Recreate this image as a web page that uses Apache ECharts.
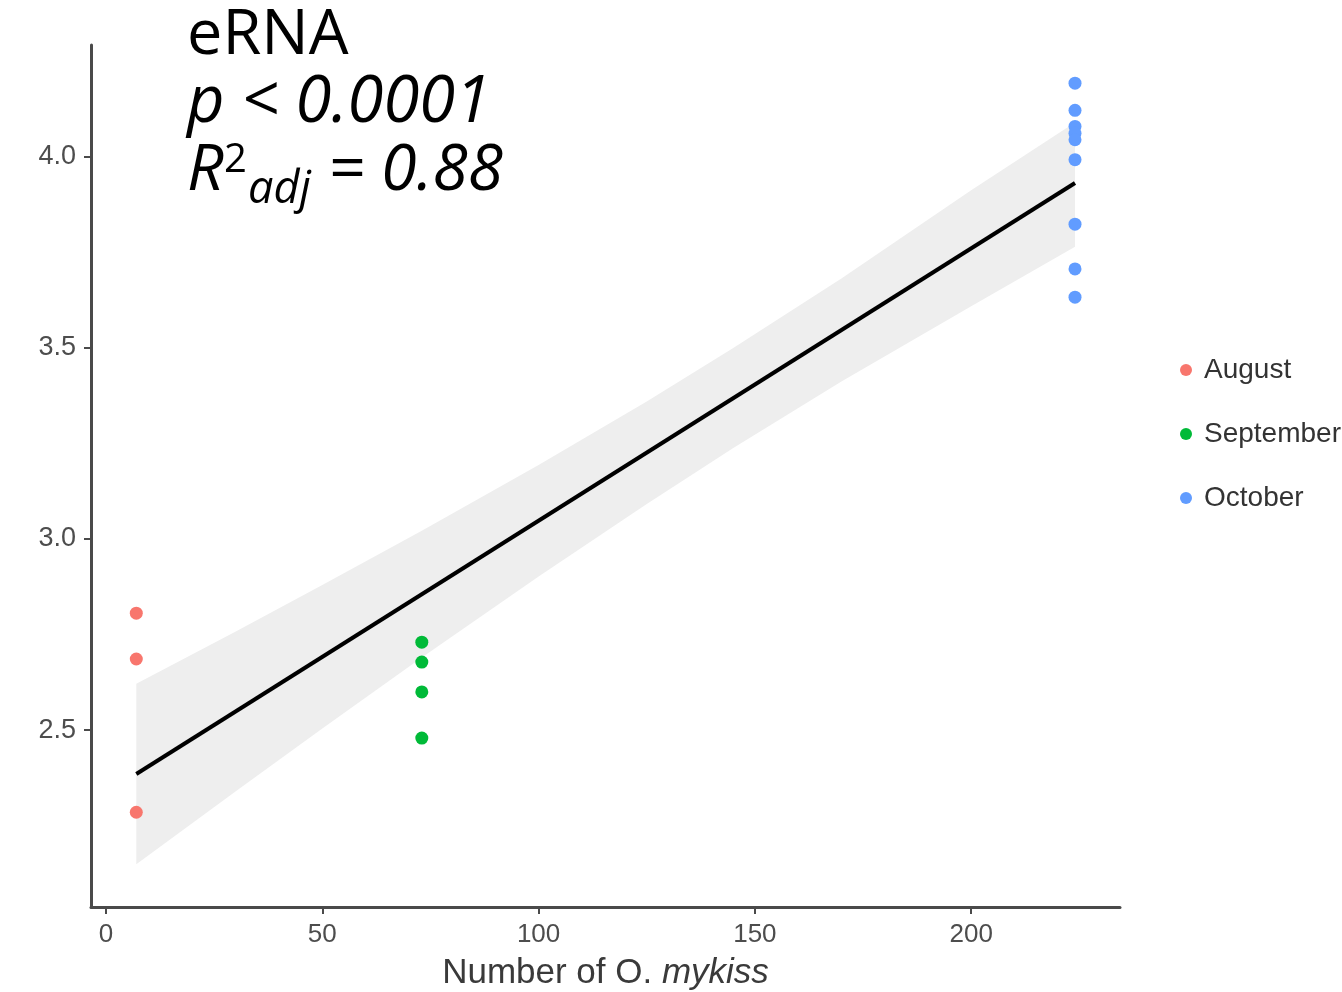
<!DOCTYPE html>
<html>
<head>
<meta charset="utf-8">
<script src="https://cdn.jsdelivr.net/npm/echarts@6/dist/echarts.min.js"></script>
<style>
html,body{margin:0;padding:0;background:#fff;}
#chart{width:1342px;height:992px;}
</style>
</head>
<body>
<div id="chart"></div>
<script>
// ---- data ----
const months = ['August', 'September', 'October'];
const monthColors = ['#F8766D', '#00BA38', '#619CFF'];

const augustX = [7, 7, 7];
const augustY = [2.806, 2.686, 2.285];

const septemberX = [73, 73, 73, 73];
const septemberY = [2.730, 2.678, 2.600, 2.479];

const octoberX = [224, 224, 224, 224, 224, 224, 224, 224, 224];
const octoberY = [4.193, 4.122, 4.080, 4.062, 4.045, 3.993, 3.824, 3.707, 3.633];

// fitted regression line (endpoints)
const fitX = [7, 224];
const fitY = [2.385, 3.932];

// confidence band
const bandX =     [7,     30,    50,    73,    100,   125,   145,   170,   200,   224];
const bandLower = [2.149, 2.340, 2.504, 2.690, 2.902, 3.092, 3.238, 3.412, 3.609, 3.765];
const bandUpper = [2.621, 2.758, 2.880, 3.022, 3.194, 3.360, 3.500, 3.682, 3.913, 4.090];

const xTicks = [0, 50, 100, 150, 200];
const yTicks = [2.5, 3.0, 3.5, 4.0];

const xRange = [-3.47, 234.4];
const yRange = [2.037, 4.293];

// ---- build ----
const pairs = (xs, ys) => xs.map((x, i) => [x, ys[i]]);
const groupX = [augustX, septemberX, octoberX];
const groupY = [augustY, septemberY, octoberY];

const chart = echarts.init(document.getElementById('chart'), null, {renderer: 'canvas'});

const axisLineStyle = {show: true, onZero: false, lineStyle: {color: '#4a4a4a', width: 3}};
const tickStyle = {show: true, length: 7, lineStyle: {color: '#4a4a4a', width: 2}};

function renderBand(params, api) {
  if (params.dataIndex !== 0) return null;
  const pts = [];
  for (let i = 0; i < bandX.length; i++) pts.push(api.coord([bandX[i], bandUpper[i]]));
  for (let i = bandX.length - 1; i >= 0; i--) pts.push(api.coord([bandX[i], bandLower[i]]));
  return {
    type: 'polygon',
    shape: {points: pts},
    style: {fill: '#eeeeee', stroke: null}
  };
}

const option = {
  animation: false,
  backgroundColor: '#ffffff',
  grid: {left: 91, right: 222, top: 45, bottom: 85, containLabel: false, outerBoundsMode: 'none'},
  xAxis: {
    type: 'value',
    min: xRange[0], max: xRange[1],
    axisLine: axisLineStyle,
    axisTick: Object.assign({}, tickStyle, {customValues: xTicks}),
    splitLine: {show: false},
    axisLabel: {
      customValues: xTicks, margin: 15,
      fontFamily: 'Liberation Sans', fontSize: 26, color: '#4d4d4d',
      formatter: v => String(v)
    },
    name: '{n|Number of O. }{i|mykiss}',
    nameLocation: 'middle', nameGap: 49,
    nameTextStyle: {
      rich: {
        n: {fontFamily: 'Liberation Sans', fontSize: 35, color: '#3a3a3a'},
        i: {fontFamily: 'Liberation Sans', fontSize: 35, fontStyle: 'italic', color: '#3a3a3a'}
      }
    }
  },
  yAxis: {
    type: 'value',
    min: yRange[0], max: yRange[1],
    axisLine: axisLineStyle,
    axisTick: Object.assign({}, tickStyle, {customValues: yTicks}),
    splitLine: {show: false},
    axisLabel: {
      customValues: yTicks, margin: 15,
      fontFamily: 'Liberation Sans', fontSize: 27, color: '#4d4d4d',
      formatter: v => v.toFixed(1)
    }
  },
  legend: {
    orient: 'vertical',
    left: 1175, top: 348,
    data: months,
    icon: 'circle',
    itemWidth: 20, itemHeight: 12,
    itemGap: 30,
    selectedMode: false,
    textStyle: {fontFamily: 'Liberation Sans', fontSize: 28, color: '#333333', lineHeight: 34, padding: [0, 0, 0, 3]}
  },
  graphic: [
    {type: 'text', z: 100, left: 187, top: 5, style: {text: 'eRNA', font: '63px "Open Sans"', fill: '#000'}},
    {type: 'text', z: 100, left: 187, top: 71, style: {text: 'p < 0.0001', font: 'italic 65px "Open Sans"', fill: '#000'}},
    {type: 'text', z: 100, left: 187, top: 140, style: {text: 'R', font: 'italic 64px "Open Sans"', fill: '#000'}},
    {type: 'text', z: 100, left: 224, top: 141, style: {text: '2', font: '40px "Open Sans"', fill: '#000'}},
    {type: 'text', z: 100, left: 248, top: 168, style: {text: 'adj', font: 'italic 45px "Open Sans"', fill: '#000'}},
    {type: 'text', z: 100, left: 328, top: 140, style: {text: '= 0.88', font: 'italic 64px "Open Sans"', fill: '#000'}}
  ],
  series: [
    {
      name: 'band', type: 'custom', silent: true,
      data: pairs(bandX, bandLower),
      renderItem: renderBand,
      clip: true, z: 1
    },
    {
      name: 'fit', type: 'line', silent: true,
      data: pairs(fitX, fitY), symbol: 'none',
      lineStyle: {color: '#000000', width: 4}, z: 3
    }
  ].concat(months.map((m, k) => ({
    name: m, type: 'scatter',
    data: pairs(groupX[k], groupY[k]),
    symbol: 'circle', symbolSize: 13,
    itemStyle: {color: monthColors[k], opacity: 1},
    z: 4
  })))
};

chart.setOption(option);
</script>
</body>
</html>
